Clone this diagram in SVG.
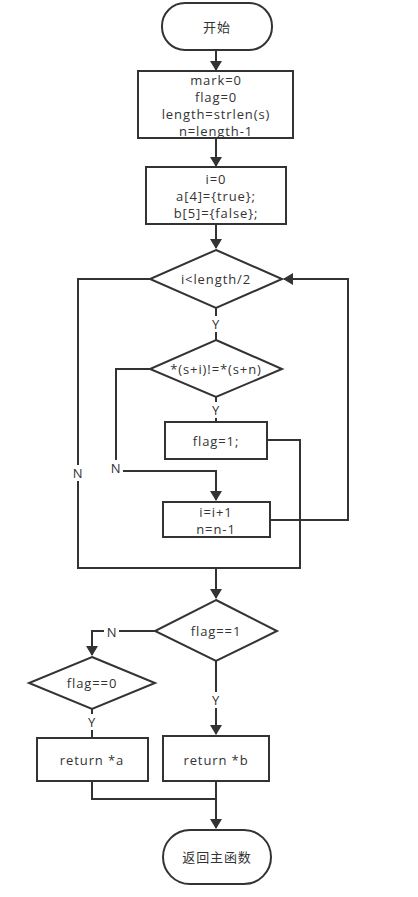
<svg xmlns="http://www.w3.org/2000/svg" width="418" height="897" viewBox="0 0 418 897">
<style>
.s{fill:#fff;stroke:#333;stroke-width:2}
.c{fill:none;stroke:#333;stroke-width:2}
text{font-family:"Open Sans","Noto Sans CJK SC",sans-serif;font-size:13px;letter-spacing:0.9px;fill:#333;text-anchor:middle;dominant-baseline:central}
.lb{fill:#fff;stroke:none}
</style>
<defs>
<marker id="a" markerWidth="10" markerHeight="12" refX="9" refY="6" orient="auto" markerUnits="userSpaceOnUse">
<path d="M0,0 L10,6 L0,12 Z" fill="#333"/>
</marker>
</defs>
<rect width="418" height="897" fill="#fff"/>
<g id="connectors">
<path class="c" d="M216,50 V70" marker-end="url(#a)"/>
<path class="c" d="M216,138 V166" marker-end="url(#a)"/>
<path class="c" d="M216,224 V248" marker-end="url(#a)"/>
<path class="c" d="M150,279 H78 V568 H300 V440 H267"/>
<path class="c" d="M270,520 H348 V279 H284" marker-end="url(#a)"/>
<path class="c" d="M216,308 V340"/>
<path class="c" d="M150,369 H116 V471 H216 V500" marker-end="url(#a)"/>
<path class="c" d="M216,397 V422"/>
<path class="c" d="M216,568 V598" marker-end="url(#a)"/>
<path class="c" d="M155,631 H92 V655" marker-end="url(#a)"/>
<path class="c" d="M92,709 V738"/>
<path class="c" d="M216,661 V734" marker-end="url(#a)"/>
<path class="c" d="M92,781 V799 H216"/>
<path class="c" d="M216,781 V828" marker-end="url(#a)"/>
<rect class="lb" x="72" y="465" width="13" height="16"/><text x="78" y="473">N</text>
<rect class="lb" x="110" y="460" width="13" height="16"/><text x="116" y="468">N</text>
<rect class="lb" x="210" y="316" width="12" height="16"/><text x="216" y="324">Y</text>
<rect class="lb" x="210" y="402" width="12" height="16"/><text x="216" y="410">Y</text>
<rect class="lb" x="104" y="624" width="15" height="16"/><text x="112" y="632">N</text>
<rect class="lb" x="86" y="714" width="12" height="16"/><text x="92" y="722">Y</text>
<rect class="lb" x="210" y="692" width="12" height="16"/><text x="216" y="700">Y</text>
</g>
<g id="start"><rect class="s" x="162" y="3" width="110" height="47" rx="23"/><text x="217" y="27">开始</text></g>
<g id="init1"><rect class="s" x="138" y="71" width="155" height="67"/>
<text x="216" y="80">mark=0</text><text x="216" y="97">flag=0</text><text x="216" y="114">length=strlen(s)</text><text x="216" y="131">n=length-1</text></g>
<g id="init2"><rect class="s" x="146" y="167" width="140" height="57"/>
<text x="216" y="179">i=0</text><text x="216" y="196">a[4]={true};</text><text x="216" y="213">b[5]={false};</text></g>
<g id="cond1"><path class="s" d="M216,250 L282,279 L216,308 L150,279 Z"/><text x="216" y="279">i&lt;length/2</text></g>
<g id="cond2"><path class="s" d="M216,340 L282,369 L216,397 L150,369 Z"/><text x="216" y="369">*(s+i)!=*(s+n)</text></g>
<g id="setflag"><rect class="s" x="165" y="422" width="102" height="37"/><text x="216" y="441">flag=1;</text></g>
<g id="incr"><rect class="s" x="163" y="502" width="107" height="35"/><text x="216" y="512">i=i+1</text><text x="216" y="529">n=n-1</text></g>
<g id="cond3"><path class="s" d="M216,600 L277,631 L216,661 L155,631 Z"/><text x="216" y="631">flag==1</text></g>
<g id="cond4"><path class="s" d="M92,657 L155,683 L92,709 L29,683 Z"/><text x="92" y="683">flag==0</text></g>
<g id="reta"><rect class="s" x="37" y="738" width="111" height="43"/><text x="92" y="760">return *a</text></g>
<g id="retb"><rect class="s" x="163" y="736" width="106" height="45"/><text x="216" y="760">return *b</text></g>
<g id="end"><rect class="s" x="163" y="830" width="108" height="54" rx="27"/><text x="217" y="857">返回主函数</text></g>
</svg>
